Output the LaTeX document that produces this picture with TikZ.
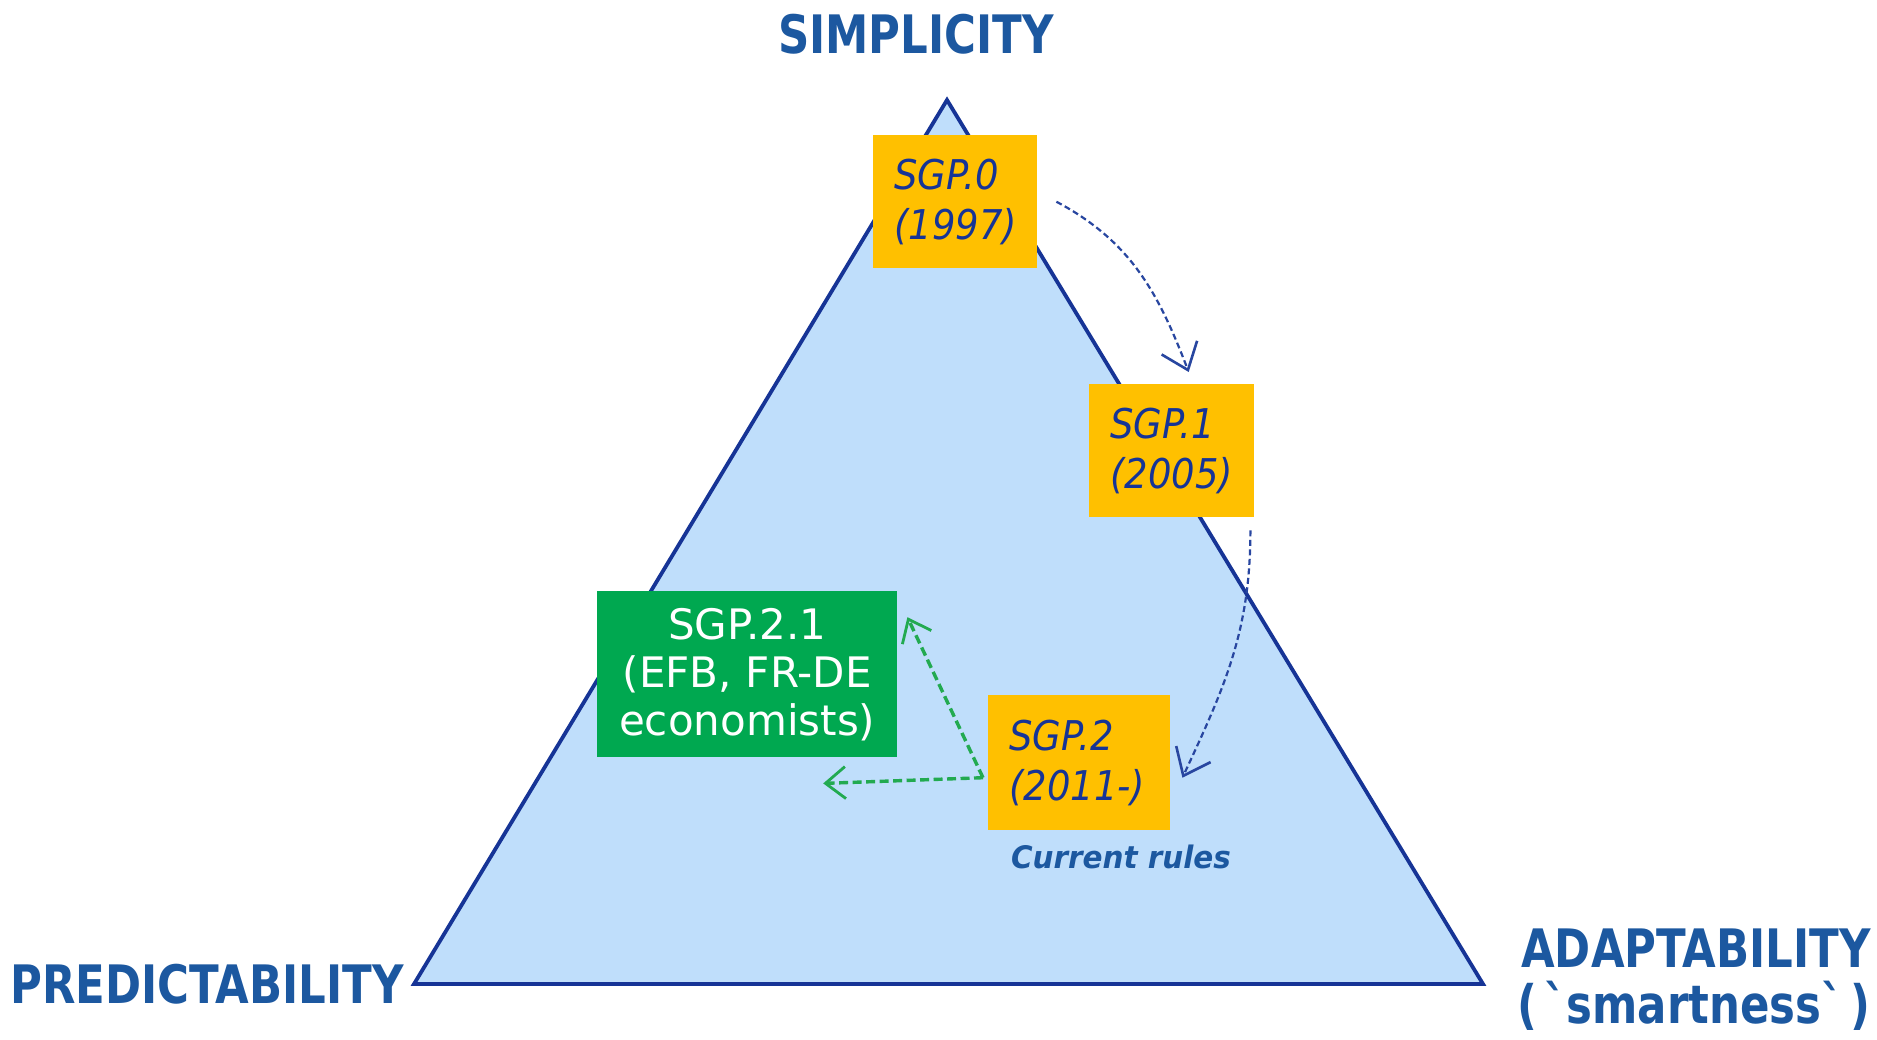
\documentclass[tikz,border=0pt]{standalone}
\usepackage{fontspec}
\usepackage{graphicx}
\setmainfont{DejaVu Sans}
\newfontfamily\headfont[Ligatures=TeXOff]{DejaVu Sans}
\usetikzlibrary{arrows.meta,calc}

\definecolor{navy}{RGB}{22,52,150}
\definecolor{skyfill}{RGB}{191,222,251}
\definecolor{steel}{RGB}{28,88,160}
\definecolor{amber}{RGB}{255,192,0}
\definecolor{leaf}{RGB}{0,168,80}
\definecolor{leafline}{RGB}{34,170,80}
\definecolor{dashblue}{RGB}{40,70,160}

\newcommand{\squeeze}[1]{\scalebox{0.82}[1]{#1}}
\newcommand{\narrow}[1]{\scalebox{0.9}[1]{#1}}

\begin{document}
\begin{tikzpicture}[x=1pt,y=1pt,
  heading/.style={font=\headfont\bfseries\fontsize{53}{56}\selectfont, text=steel, inner sep=0pt, anchor=base},
  era/.style={fill=amber, anchor=north west, inner xsep=21pt, inner ysep=0pt, align=left,
              font=\itshape\fontsize{41}{50}\selectfont, text=navy},
  proposal/.style={fill=leaf, anchor=north west, inner sep=0pt, align=center, text=white,
                   font=\fontsize{42}{48}\selectfont},
  drift/.style={dashblue, line width=2.2pt, dash pattern=on 6pt off 3.5pt,
                -{Straight Barb[length=24pt,width=38pt,line width=2.6pt]}},
  branch/.style={leafline, line width=3.4pt, dash pattern=on 9pt off 4.5pt,
                 -{Straight Barb[length=20pt,width=32pt,line width=2.8pt]}},
]
% canvas
\fill[white] (0,0) rectangle (1877,-1039);
\useasboundingbox (0,0) rectangle (1877,-1039);

% the trade-off triangle
\draw[navy, line width=3.8pt, fill=skyfill, line join=miter]
  (947,-100) -- (414,-984) -- (1483,-984) -- cycle;

% corner headings
\node[heading] (simp) at (916,-53) {\squeeze{SIMPLICITY}};
\node[heading] (pred) at (207,-1003) {\squeeze{PREDICTABILITY}};
\node[heading] (adap) at (1696,-967) {\squeeze{ADAPTABILITY}};
\node[heading] (smart) at (1694,-1023) {\squeeze{(\,`smartness`\,)}};

% pact versions
\node[era, minimum width=164pt, minimum height=133pt, text width=122pt] (sgp0) at (873,-135)
  {\narrow{SGP.0}\\\narrow{(1997)}};
\node[era, minimum width=165pt, minimum height=133pt, text width=123pt] (sgp1) at (1089,-384)
  {\narrow{SGP.1}\\\narrow{(2005)}};
\node[era, minimum width=182pt, minimum height=135pt, text width=140pt] (sgp2) at (988,-695)
  {\narrow{SGP.2}\\\narrow{(2011-)}};
\node[proposal, minimum width=300pt, minimum height=166pt, text width=300pt] (sgp21) at (597,-591)
  {SGP.2.1\\(EFB, FR-DE\\economists)};

\node[anchor=base, text=steel, font=\bfseries\itshape\fontsize{31}{34}\selectfont, inner sep=0pt]
  (current) at (1121,-868) {\scalebox{0.95}[1]{Current rules}};

% evolution of the rules
\draw[drift] ($(sgp0.east)+(19,0)$) to[out=-28,in=111] ($(sgp1.north)+(17,12)$);
\draw[drift] ($(sgp1.south east)+(-4,-13)$) to[out=-90,in=65] ($(sgp2.east)+(12,-15)$);

% proposed reform directions
\coordinate (fork) at ($(sgp2.west)+(-5,-15)$);
\draw[branch] (fork) -- ($(sgp21.east)+(10,57)$);
\draw[branch] (fork) -- ($(sgp21.south)+(76,-26)$);
\end{tikzpicture}
\end{document}
